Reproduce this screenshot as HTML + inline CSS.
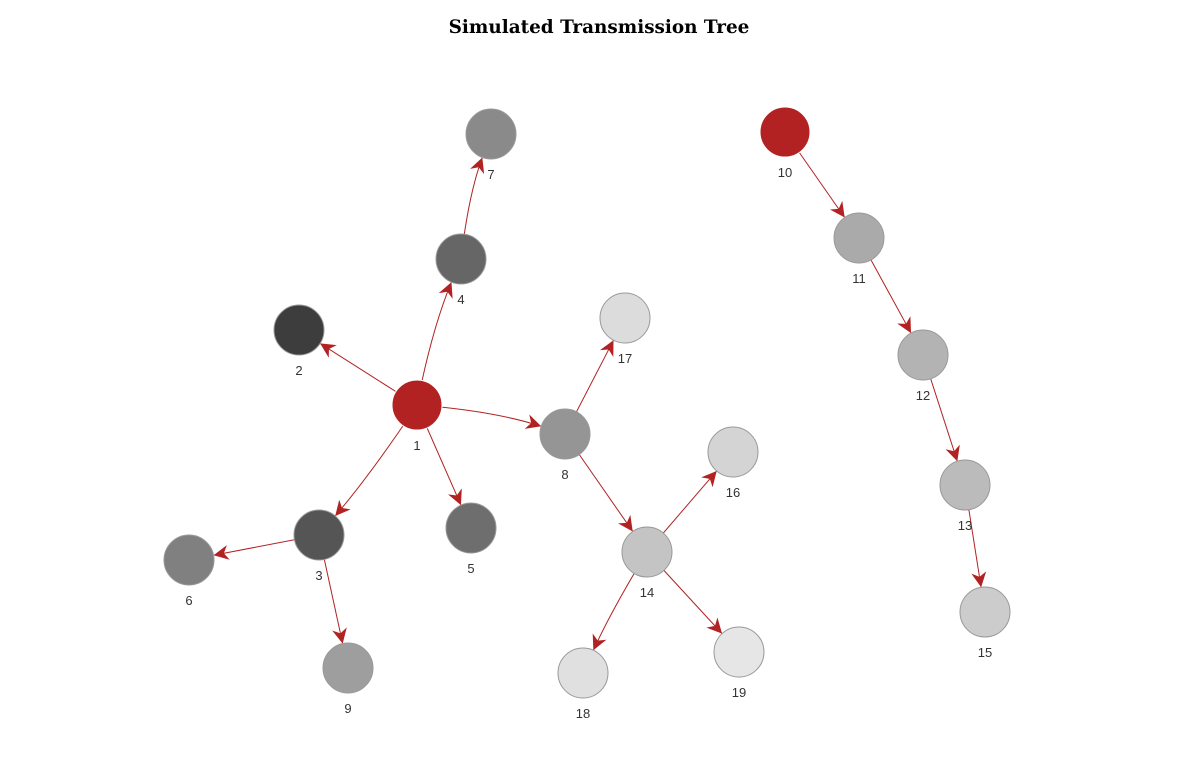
<!DOCTYPE html>
<html><head><meta charset="utf-8"><style>
body{margin:0;background:#fff;width:1198px;height:777px;overflow:hidden}
svg{display:block}
</style></head><body>
<svg id="chart" width="1198" height="777">
<text x="599" y="33" text-anchor="middle" font-family="'DejaVu Serif',serif" font-weight="bold" font-size="18.4" fill="#000">Simulated Transmission Tree</text>
<defs><marker id="arr" viewBox="0 0 10 10" refX="10" refY="5" markerWidth="19" markerHeight="15" markerUnits="userSpaceOnUse" orient="auto"><path d="M0,0 L10,5 L0,10 L3,5 z" fill="#b22222"/></marker></defs>
<g id="edges"></g><g id="nodes"></g>
</svg>
<script>
const nodeIds=[1,2,3,4,5,6,7,8,9,10,11,12,13,14,15,16,17,18,19];
const nodeX=[417,299,319,461,471,189,491,565,348,785,859,923,965,647,985,733,625,583,739];
const nodeY=[405,330,535,259,528,560,134,434,668,132,238,355,485,552,612,452,318,673,652];
const nodeFill=["#b22222","#3d3d3d","#555555","#666666","#6e6e6e","#808080","#8a8a8a","#959595","#9e9e9e","#b22222","#aaaaaa","#b3b3b3","#bbbbbb","#c4c4c4","#cccccc","#d4d4d4","#dcdcdc","#e0e0e0","#e6e6e6"];
const edgeFrom=[1,1,1,1,1,4,8,8,3,3,10,11,12,13,14,14,14];
const edgeTo=[2,3,4,5,8,7,17,14,6,9,11,12,13,15,16,18,19];
const edgeBend=[0,-0.03,-0.05,0,-0.06,-0.06,0,0,0,0,0,0,0,0,0,0.03,0];
const NS="http://www.w3.org/2000/svg",R=25;
const eg=document.getElementById('edges'),ng=document.getElementById('nodes');
function idx(id){return nodeIds.indexOf(id);}
edgeFrom.forEach((f,i)=>{
  const a=idx(f),b=idx(edgeTo[i]);
  const x1=nodeX[a],y1=nodeY[a],x2=nodeX[b],y2=nodeY[b];
  const dx=x2-x1,dy=y2-y1;
  const cx=(x1+x2)/2-dy*edgeBend[i],cy=(y1+y2)/2+dx*edgeBend[i];
  const ex=x2-cx,ey=y2-cy,el=Math.hypot(ex,ey);
  const tx=x2-ex/el*R,ty=y2-ey/el*R;
  const p=document.createElementNS(NS,'path');
  p.setAttribute('d',`M${x1},${y1} Q${cx},${cy} ${tx},${ty}`);
  p.setAttribute('fill','none');p.setAttribute('stroke','#b22222');p.setAttribute('stroke-width','1');
  p.setAttribute('marker-end','url(#arr)');
  
  
  eg.appendChild(p);
});
nodeIds.forEach((id,i)=>{
  const c=document.createElementNS(NS,'circle');
  c.setAttribute('cx',nodeX[i]);c.setAttribute('cy',nodeY[i]);c.setAttribute('r',R);
  c.setAttribute('fill',nodeFill[i]);
  c.setAttribute('stroke',nodeFill[i]=="#b22222"?"#fff":"#999");c.setAttribute('stroke-width','1');
  
  
  ng.appendChild(c);
  const t=document.createElementNS(NS,'text');
  t.setAttribute('x',nodeX[i]);t.setAttribute('y',nodeY[i]+45);
  t.setAttribute('text-anchor','middle');t.setAttribute('font-family','Liberation Sans, sans-serif');
  t.setAttribute('font-size','13');t.setAttribute('fill','#333');
  t.textContent=id;
  
  
  ng.appendChild(t);
});
</script>
</body></html>
